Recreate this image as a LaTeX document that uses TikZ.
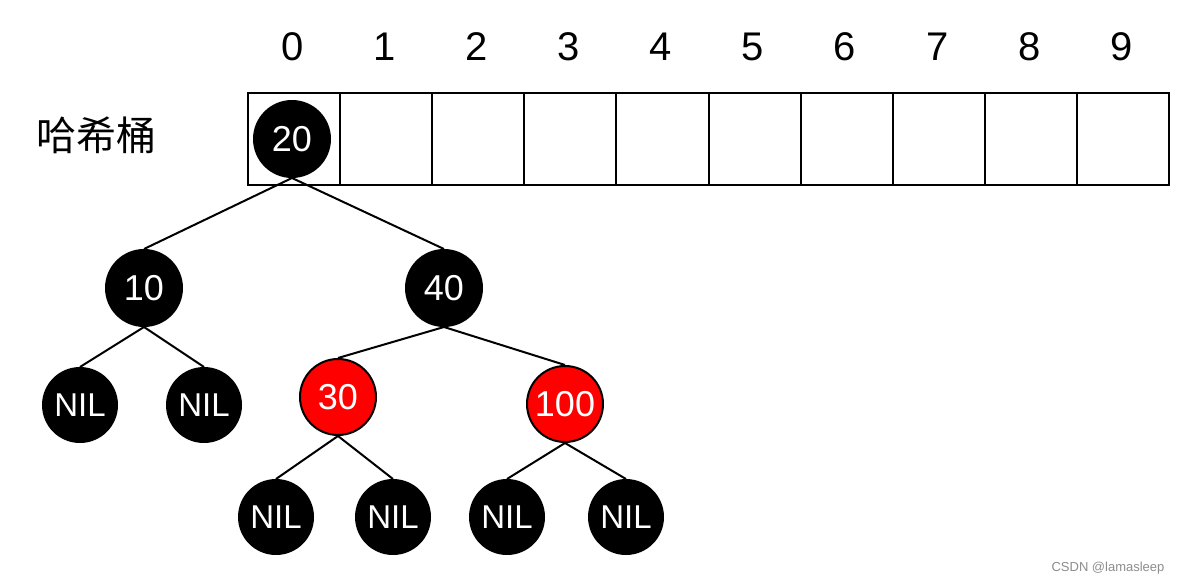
\documentclass[tikz,border=0pt]{standalone}
\usepackage{fontspec}
\setmainfont{Liberation Sans}
\newfontfamily\cjk{Noto Sans CJK SC}
\begin{document}
\begin{tikzpicture}[x=1pt,y=-1pt,
  rb/.style={circle,minimum size=76pt,inner sep=0pt,draw=black,line width=2pt,text=white,font=\fontsize{36}{36}\selectfont},
  blknode/.style={rb,fill=black},
  rednode/.style={rb,fill=red},
  nilnode/.style={rb,fill=black,minimum size=74pt,font=\fontsize{33}{33}\selectfont},
  edge/.style={line width=2pt},
  cell/.style={draw=black,line width=2pt,minimum width=92.1pt,minimum height=92pt,inner sep=0pt,anchor=north west},
  idx/.style={font=\fontsize{40}{40}\selectfont}
]
\useasboundingbox (0,0) rectangle (1186,586);
\foreach \i in {0,...,9}{
  \node[cell] (c\i) at ({247+92.1*\i},92) {};
  \node[idx] (i\i) at ({292.5+92.1*\i},47) {\i};
}
\node[font=\cjk\fontsize{40}{40}\selectfont] (lbl) at (96,135) {哈希桶};

\node[blknode] (n20) at (292,139) {20};
\node[blknode] (n10) at (144,288) {10};
\node[blknode] (n40) at (444,288) {40};
\node[nilnode] (a1) at (80,405) {NIL};
\node[nilnode] (a2) at (204,405) {NIL};
\node[rednode] (n30) at (338,397) {30};
\node[rednode] (n100) at (565,404) {100};
\node[nilnode] (b1) at (276,517) {NIL};
\node[nilnode] (b2) at (393,517) {NIL};
\node[nilnode] (b3) at (507,517) {NIL};
\node[nilnode] (b4) at (626,517) {NIL};

\draw[edge] (n20.south) -- (n10.north);
\draw[edge] (n20.south) -- (n40.north);
\draw[edge] (n10.south) -- (a1.north);
\draw[edge] (n10.south) -- (a2.north);
\draw[edge] (n40.south) -- (n30.north);
\draw[edge] (n40.south) -- (n100.north);
\draw[edge] (n30.south) -- (b1.north);
\draw[edge] (n30.south) -- (b2.north);
\draw[edge] (n100.south) -- (b3.north);
\draw[edge] (n100.south) -- (b4.north);

\node[text=black!45,font=\fontsize{13}{13}\selectfont] (wm) at (1108,568) {CSDN @lamasleep};
\end{tikzpicture}
\end{document}
